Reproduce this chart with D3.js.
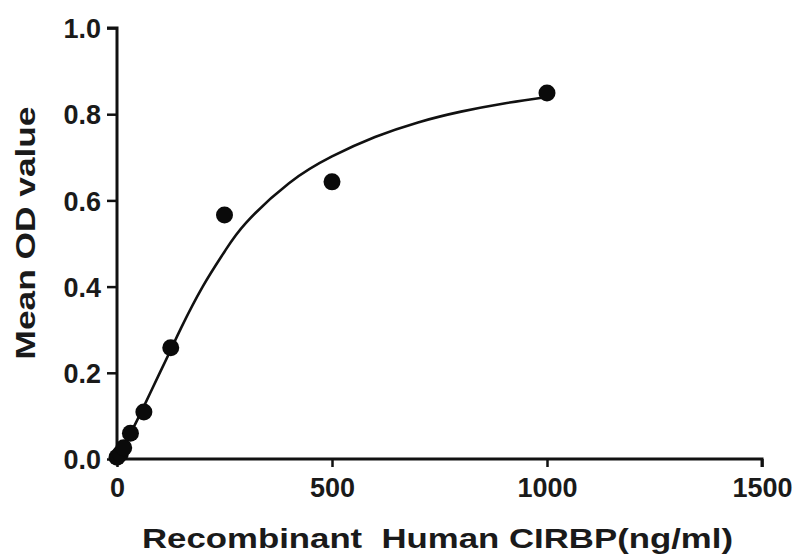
<!DOCTYPE html>
<html>
<head>
<meta charset="utf-8">
<script src="https://cdn.jsdelivr.net/npm/d3@7"></script>
<style>
  html, body { margin: 0; padding: 0; background: #fff; }
  svg { display: block; }
  text { font-family: "Liberation Sans", Arial, sans-serif; font-weight: bold; fill: #1a1a1a; }
</style>
</head>
<body>
<svg id="chart" width="799" height="556"></svg>
<script>
// Data
const concentrations = [0, 7.8, 15.6, 31.25, 62.5, 125, 250, 500, 1000];
const meanOD = [0.004, 0.012, 0.026, 0.06, 0.109, 0.258, 0.566, 0.643, 0.849];
const fitX = [0, 31.25, 62.5, 100, 125, 150, 200, 250, 300, 400, 500, 600, 700, 800, 900, 1000];
const fitY = [0.0, 0.059, 0.122, 0.201, 0.253, 0.306, 0.401, 0.481, 0.548, 0.640, 0.702, 0.747, 0.781, 0.806, 0.825, 0.840];
const xTicks = [0, 500, 1000, 1500];
const yTicks = [0.0, 0.2, 0.4, 0.6, 0.8, 1.0];
const xTitle = "Recombinant  Human CIRBP(ng/ml)";
const yTitle = "Mean OD value";

const svg = d3.select("#chart");
const x = d3.scaleLinear().domain([0, 1500]).range([117, 762]);
const y = d3.scaleLinear().domain([0, 1.0]).range([459, 28]);

// Axes
const xAxis = d3.axisBottom(x).tickValues(xTicks).tickSize(8).tickPadding(6).tickFormat(d3.format("d"));
const gx = svg.append("g").attr("transform", `translate(0,${y(0)})`).call(xAxis);
const yAxis = d3.axisLeft(y).tickValues(yTicks).tickSize(10).tickPadding(6).tickFormat(d3.format(".1f"));
const gy = svg.append("g").attr("transform", `translate(${x(0)},0)`).call(yAxis);

[gx, gy].forEach(g => {
  g.select(".domain").attr("stroke", "#111").attr("stroke-width", 3);
  g.selectAll(".tick line").attr("stroke", "#111").attr("stroke-width", 2.5);
  g.selectAll(".tick text").style("font-size", "27px").style("font-weight", "bold").attr("fill", "#1a1a1a");
});
gx.select(".domain").attr("d", `M${x(0)},0H${x(1500)}V8`);
gy.select(".domain").attr("d", `M-10,${y(1.0)}H0V${y(0)}`);
gy.selectAll(".tick text").attr("dy", "0.36em");
gx.selectAll(".tick text").attr("dy", "0.9em");

// Fit curve
const fitPts = fitX.map((d, i) => [d, fitY[i]]);
svg.append("path")
  .datum(fitPts)
  .attr("fill", "none")
  .attr("stroke", "#111")
  .attr("stroke-width", 2.6)
  .attr("d", d3.line().x(d => x(d[0])).y(d => y(d[1])).curve(d3.curveNatural));

// Points
svg.append("g").selectAll("circle")
  .data(concentrations.map((c, i) => [c, meanOD[i]]))
  .join("circle")
  .attr("cx", d => x(d[0]))
  .attr("cy", d => y(d[1]))
  .attr("r", 8.5)
  .attr("fill", "#0a0a0a");

// Titles
svg.append("text")
  .attr("x", 437.5).attr("y", 548)
  .attr("text-anchor", "middle")
  .style("font-size", "28px")
  .style("white-space", "pre")
  .attr("xml:space", "preserve")
  .attr("textLength", 591)
  .attr("lengthAdjust", "spacingAndGlyphs")
  .text(xTitle);

svg.append("text")
  .attr("transform", "translate(35,233) rotate(-90)")
  .attr("text-anchor", "middle")
  .style("font-size", "28px")
  .attr("textLength", 253)
  .attr("lengthAdjust", "spacingAndGlyphs")
  .text(yTitle);
</script>
</body>
</html>
